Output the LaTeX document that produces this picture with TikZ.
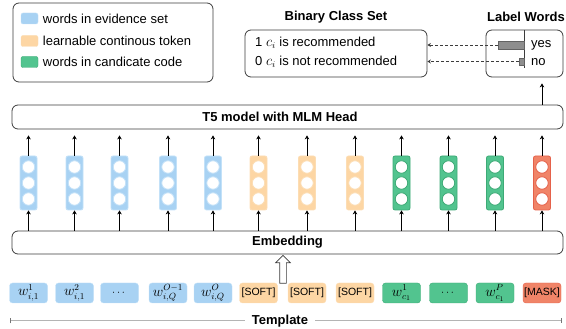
\documentclass[tikz,border=0pt]{standalone}
\usepackage{fontspec}
\setmainfont{Liberation Sans}
\usepackage{amsmath}
\usetikzlibrary{positioning,arrows.meta,calc,shapes.arrows}
\definecolor{evfill}{HTML}{A8D2F3}
\definecolor{evline}{HTML}{C3E1F8}
\definecolor{softfill}{HTML}{FDD6A4}
\definecolor{softline}{HTML}{FCDDB4}
\definecolor{codefill}{HTML}{52C48F}
\definecolor{codeline}{HTML}{3DAA76}
\definecolor{maskfill}{HTML}{F08468}
\definecolor{maskline}{HTML}{E5614A}
\definecolor{framegray}{HTML}{3C3C3C}
\definecolor{bargray}{HTML}{8E8E8E}
\definecolor{spangray}{HTML}{B4B4B4}
\newcommand{\wtok}[1]{{\fontsize{13.5}{15}\selectfont$#1$}}
\tikzset{
    every node/.style={font=\fontsize{13}{15}\selectfont},
    panel/.style={rounded corners=6pt,draw=framegray,line width=0.8pt,fill=white,inner sep=0pt},
    title/.style={font=\bfseries\fontsize{13}{15}\selectfont,inner sep=0pt},
    swatch/.style={rounded corners=2pt,fill=#1fill,draw=#1line,minimum width=17pt,minimum height=11pt,inner sep=0pt},
    vecbox/.style={rounded corners=2pt,fill=#1fill,draw=#1line,minimum width=17pt,minimum height=54pt,inner sep=0pt,line width=0.8pt},
    unit/.style={circle,draw=#1line,fill=white,minimum size=12.5pt,inner sep=0pt,line width=0.8pt},
    tok/.style={rounded corners=3pt,fill=#1fill,draw=#1line,minimum width=38pt,minimum height=20pt,inner sep=0pt,font=\fontsize{10.5}{12}\selectfont},
    bar/.style={fill=bargray,draw=bargray!70!black,line width=0.4pt,inner sep=0pt},
    up/.style={-{Stealth[length=4pt,width=4.5pt]},line width=0.9pt,draw=black},
    guess/.style={dashed,dash pattern=on 3pt off 2pt,-{Stealth[length=3.5pt,width=4pt]},line width=0.8pt,draw=framegray},
    span/.style={draw=spangray,line width=1pt,-{Bar[width=5pt,line width=1pt,color=framegray!70]},shorten <=7pt}
}
\begin{document}
\begin{tikzpicture}[x=1pt,y=1pt]
\useasboundingbox (0,0) rectangle (566,329);
% legend
\node[panel,minimum width=200pt,minimum height=79pt] (legend) at (113,286.5) {};
\foreach \k/\y/\txt in {ev/310.5/words in evidence set,soft/288/learnable continous token,code/267/words in candicate code}{
    \node[swatch=\k] (sw\k) at (29.5,\y) {};
    \node[right=4.5pt of sw\k,inner sep=0pt] (lg\k) {\txt};
}
% binary class set
\node[title] (classtitle) at (336,312) {Binary Class Set};
\node[panel,minimum width=182pt,minimum height=47pt] (classes) at (336,275.5) {};
\node[right,inner sep=0pt] (cls1) at (255,286) {1 \wtok{c_i} is recommended};
\node[right,inner sep=0pt] (cls0) at (255,267) {0 \wtok{c_i} is not recommended};
% label words
\node[title] (verbtitle) at (526,312) {Label Words};
\node[panel,minimum width=77pt,minimum height=47pt] (verbal) at (524.5,275.5) {};
\draw[framegray,line width=0.8pt] (524,299) -- (524,261);
\node[bar,minimum width=26pt,minimum height=8pt] (yesbar) at (511,284) {};
\node[bar,minimum width=5pt,minimum height=7pt] (nobar) at (521.5,267.5) {};
\node[right,inner sep=0pt] (yes) at (531,284) {yes};
\node[right,inner sep=0pt] (no) at (531,267) {no};
\draw[guess] (yesbar) -- (classes.east |- yesbar);
\draw[guess] (nobar) -- (classes.east |- nobar);
% model
\node[panel,minimum width=551pt,minimum height=24pt] (t5) at (287.5,212) {};
\node[title] (t5txt) at (280,212) {T5 model with MLM Head};
\node[panel,minimum width=551pt,minimum height=23pt,font=\bfseries\fontsize{13}{15}\selectfont] (embed) at (287.5,86.5) {Embedding};
\foreach \i/\x/\k/\txt in {1/28.5/ev/{\wtok{w^{1}_{i,1}}},2/74.5/ev/{\wtok{w^{2}_{i,1}}},3/119.5/ev/{$\cdots$},
    4/168/ev/{\wtok{w^{O-1}_{i,Q}}},5/213/ev/{\wtok{w^{O}_{i,Q}}},6/258.5/soft/{[SOFT]},7/307/soft/{[SOFT]},
    8/355/soft/{[SOFT]},9/401.5/code/{\wtok{w^{1}_{c_1}}},10/448.5/code/{$\cdots$},11/495/code/{\wtok{w^{P}_{c_1}}},
    12/542/mask/{[MASK]}}{
    \node[vecbox=\k] (col\i) at (\x,146) {};
    \foreach \j/\y in {a/162,b/146,c/130}
        \node[unit=\k] (u\i\j) at (\x,\y) {};
    \node[tok=\k] (tok\i) at (\x,36) {\txt};
    \draw[up,shorten >=6pt] (col\i.north) -- (col\i.north |- t5.south);
    \draw[up] (col\i.south |- embed.north) -- (col\i.south);
}
\draw[up,shorten >=6pt] (t5.north -| col12) -- (verbal.south -| col12);
\node[single arrow,draw=framegray,fill=white,line width=0.7pt,shape border rotate=90,
    minimum height=28pt,minimum width=14pt,single arrow head extend=4pt,inner sep=3pt] (feed) at (283,58) {};
% template span
\node[title] (tmpl) at (280,8) {Template};
\coordinate (tmplL) at (10,8);
\coordinate (tmplR) at (562,8);
\draw[span] (tmpl.west) -- (tmplL);
\draw[span] (tmpl.east) -- (tmplR);
\end{tikzpicture}
\end{document}
